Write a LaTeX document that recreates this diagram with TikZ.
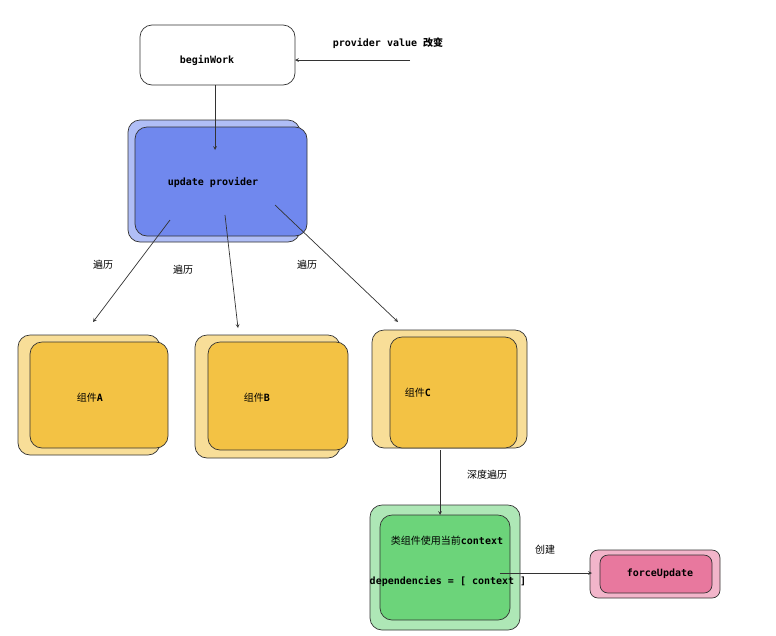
\documentclass[tikz,border=0pt]{standalone}
\usepackage{fontspec}
\setmonofont{DejaVu Sans Mono}
\newfontfamily\cjk{Noto Sans CJK SC}
\definecolor{provblue}{HTML}{7088EE}
\definecolor{compyellow}{HTML}{F3C244}
\definecolor{ctxgreen}{HTML}{6CD47A}
\definecolor{updpink}{HTML}{E8789E}
\begin{document}
\begin{tikzpicture}[x=1pt,y=-1pt,
  box/.style={draw=black!80,rounded corners=12pt,line width=0.7pt},
  back/.style={box,fill opacity=0.55},
  front/.style={box},
  lbl/.style={font=\ttfamily\bfseries\fontsize{10}{12}\selectfont},
  cn/.style={font=\cjk\fontsize{10}{12}\selectfont},
  arr/.style={->,draw=black!80,line width=0.7pt,>=stealth}]
  \useasboundingbox (0,0) rectangle (776,635);

  % beginWork
  \draw[box,fill=white] (140,25) rectangle (295,85);
  \node[lbl] (bw) at (207,60) {beginWork};
  \node[font=\ttfamily\bfseries\fontsize{10}{12}\selectfont] (pv) at (388,43) {provider value {\cjk 改变}};
  \coordinate (pvs) at (410,60);
  \coordinate (bwr) at (295,60);
  \draw[arr] (pvs) -- (bwr);

  % update provider
  \draw[back,fill=provblue] (128,120) rectangle (300,242);
  \draw[front,fill=provblue] (135,127) rectangle (307,236);
  \node[lbl] (up) at (213,182) {update provider};
  \coordinate (bwb) at (215,85);
  \coordinate (upt) at (215,150);
  \draw[arr] (bwb) -- (upt);

  % components
  \draw[back,fill=compyellow] (18,335) rectangle (160,455);
  \draw[front,fill=compyellow] (30,342) rectangle (168,448);
  \node[cn] (ca) at (90,398) {组件\textbf{\ttfamily A}};
  \draw[back,fill=compyellow] (195,335) rectangle (340,458);
  \draw[front,fill=compyellow] (208,342) rectangle (348,450);
  \node[cn] (cb) at (257,398) {组件\textbf{\ttfamily B}};
  \draw[back,fill=compyellow] (372,330) rectangle (527,448);
  \draw[front,fill=compyellow] (390,337) rectangle (517,448);
  \node[cn] (cc) at (418,393) {组件\textbf{\ttfamily C}};

  \coordinate (u1) at (170,220); \coordinate (a1) at (93,322);
  \coordinate (u2) at (225,215); \coordinate (b1) at (238,328);
  \coordinate (u3) at (275,205); \coordinate (c1) at (398,322);
  \draw[arr] (u1) -- (a1);
  \draw[arr] (u2) -- (b1);
  \draw[arr] (u3) -- (c1);
  \node[cn] (t1) at (103,265) {遍历};
  \node[cn] (t2) at (183,270) {遍历};
  \node[cn] (t3) at (307,265) {遍历};

  % context consumer
  \draw[back,fill=ctxgreen] (370,505) rectangle (520,630);
  \draw[front,fill=ctxgreen] (380,515) rectangle (510,620);
  \node[cn] (cls) at (447,541) {类组件使用当前\textbf{\ttfamily context}};
  \node[lbl] (dep) at (448,581) {dependencies = [ context ]};
  \coordinate (cb1) at (440,450); \coordinate (gt) at (440,515);
  \draw[arr] (cb1) -- (gt);
  \node[cn] (t4) at (487,475) {深度遍历};

  % forceUpdate
  \draw[back,fill=updpink,rounded corners=8pt] (590,550) rectangle (720,598);
  \draw[front,fill=updpink,rounded corners=8pt] (600,555) rectangle (712,593);
  \node[lbl] (fu) at (660,574) {forceUpdate};
  \coordinate (gs) at (500,573); \coordinate (fl) at (592,573);
  \draw[arr] (gs) -- (fl);
  \node[cn] (t5) at (545,550) {创建};
\end{tikzpicture}
\end{document}
